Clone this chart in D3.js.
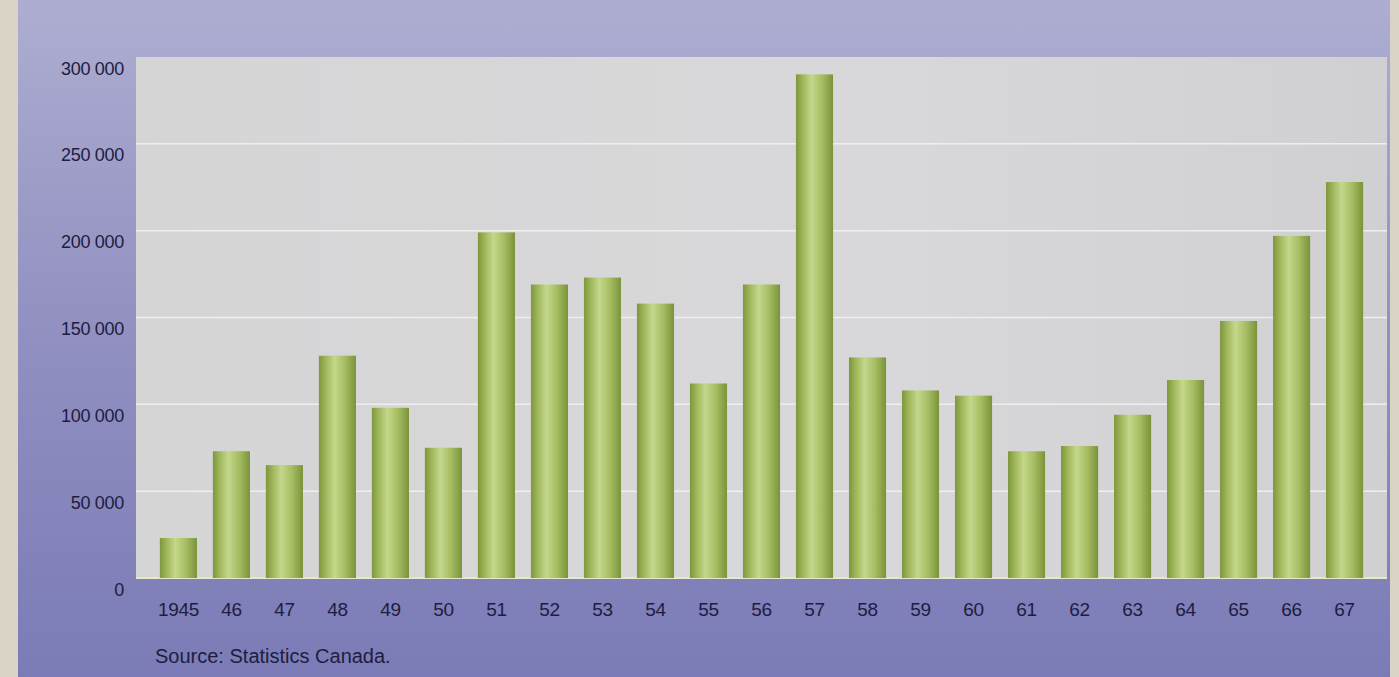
<!DOCTYPE html>
<html lang="en">
<head>
<meta charset="utf-8">
<title>Immigration to Canada 1945-1967</title>
<script src="https://cdn.jsdelivr.net/npm/d3@7"></script>
<style>
  body { margin: 0; background: #d9d4c6; }
  text { font-family: "Liberation Sans", Arial, sans-serif; fill: #1d1d3f; }
</style>
</head>
<body>
<script>
// values
var years = ["1945", "46", "47", "48", "49", "50", "51", "52", "53", "54", "55", "56",
             "57", "58", "59", "60", "61", "62", "63", "64", "65", "66", "67"];
var immigrants = [23000, 73000, 65000, 128000, 98000, 75000, 199000, 169000, 173000, 158000, 112000, 169000,
                  290000, 127000, 108000, 105000, 73000, 76000, 94000, 114000, 148000, 197000, 228000];
var yTicks = [0, 50000, 100000, 150000, 200000, 250000, 300000];
var sourceNote = "Source: Statistics Canada.";

var w = 1399;
var h = 677;
var plot = { left: 136, right: 1387, top: 57, bottom: 578 };

var svg = d3.select("body")
            .append("svg")
            .attr("width", w)
            .attr("height", h);

var defs = svg.append("defs");

var bg = defs.append("linearGradient")
             .attr("id", "bg")
             .attr("x1", 0).attr("y1", 0).attr("x2", 0).attr("y2", 1);
bg.append("stop").attr("offset", "0%").attr("stop-color", "#aeadd1");
bg.append("stop").attr("offset", "45%").attr("stop-color", "#9392c2");
bg.append("stop").attr("offset", "100%").attr("stop-color", "#7b7bb7");

var area = defs.append("linearGradient")
               .attr("id", "area")
               .attr("x1", 0).attr("y1", 0).attr("x2", 1).attr("y2", 0);
area.append("stop").attr("offset", "0%").attr("stop-color", "#d6d5d6");
area.append("stop").attr("offset", "60%").attr("stop-color", "#d8d8da");
area.append("stop").attr("offset", "100%").attr("stop-color", "#d0d0d3");

// cylinder look for the bars
var bar = defs.append("linearGradient")
              .attr("id", "bar")
              .attr("x1", 0).attr("y1", 0).attr("x2", 1).attr("y2", 0);
bar.append("stop").attr("offset", "0%").attr("stop-color", "#7d973c");
bar.append("stop").attr("offset", "18%").attr("stop-color", "#9fb65a");
bar.append("stop").attr("offset", "42%").attr("stop-color", "#c4d78b");
bar.append("stop").attr("offset", "70%").attr("stop-color", "#a6bd62");
bar.append("stop").attr("offset", "100%").attr("stop-color", "#7a933a");

// page background
svg.append("rect")
   .attr("x", 18).attr("y", 0)
   .attr("width", 1372).attr("height", h)
   .attr("fill", "url(#bg)");

svg.append("rect")
   .attr("x", plot.left).attr("y", plot.top)
   .attr("width", plot.right - plot.left).attr("height", plot.bottom - plot.top)
   .attr("fill", "url(#area)");

var x = d3.scaleBand()
          .domain(years)
          .range([plot.left, plot.right])
          .paddingInner(0.3)
          .paddingOuter(0.45);

var y = d3.scaleLinear()
          .domain([0, 300000])
          .range([plot.bottom, plot.top]);

// gridlines
svg.append("g")
   .selectAll("line")
   .data(yTicks.slice(1, -1))
   .enter()
   .append("line")
   .attr("x1", plot.left)
   .attr("x2", plot.right)
   .attr("y1", function(d) { return y(d); })
   .attr("y2", function(d) { return y(d); })
   .attr("stroke", "#efefef")
   .attr("stroke-width", 1.5);

svg.append("line")
   .attr("x1", plot.left).attr("x2", plot.right)
   .attr("y1", plot.bottom).attr("y2", plot.bottom)
   .attr("stroke", "#e6e8c8")
   .attr("stroke-width", 2);

// bars
svg.append("g")
   .selectAll("rect")
   .data(immigrants)
   .enter()
   .append("rect")
   .attr("x", function(d, i) { return x(years[i]); })
   .attr("y", function(d) { return y(d); })
   .attr("width", x.bandwidth())
   .attr("height", function(d) { return plot.bottom - y(d); })
   .attr("fill", "url(#bar)");

// y axis labels
var yAxis = d3.axisLeft(y)
              .tickValues(yTicks)
              .tickSize(0)
              .tickPadding(0)
              .tickFormat(function(d) { return d3.format(",")(d).replace(/,/g, " "); });

var gy = svg.append("g")
            .attr("transform", "translate(" + (plot.left - 12) + ",0)")
            .call(yAxis);
gy.select(".domain").remove();
gy.selectAll("text")
  .attr("dy", "0.95em")
  .style("font-size", "18px")
  .style("letter-spacing", "-0.3px")
  .attr("fill", "#1d1d3f");

// x axis labels
var xAxis = d3.axisBottom(x)
              .tickSize(0)
              .tickPadding(0);

var gx = svg.append("g")
            .attr("transform", "translate(0," + (plot.bottom + 24) + ")")
            .call(xAxis);
gx.select(".domain").remove();
gx.selectAll("text")
  .style("font-size", "19px")
  .style("letter-spacing", "-0.3px")
  .attr("fill", "#1d1d3f");

svg.append("text")
   .attr("x", 155)
   .attr("y", 663)
   .style("font-size", "20px")
   .attr("fill", "#262648")
   .text(sourceNote);
</script>
</body>
</html>
